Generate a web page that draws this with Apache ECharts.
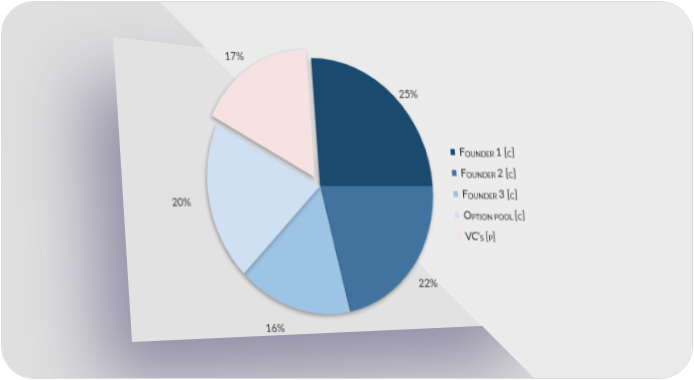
<!DOCTYPE html>
<html>
<head>
<meta charset="utf-8">
<script src="https://cdn.jsdelivr.net/npm/echarts@6/dist/echarts.min.js"></script>
<style>
html,body{margin:0;padding:0;background:#ffffff;}
#wrap{position:relative;width:694px;height:380px;overflow:hidden;background:#fff;}
#frame{position:absolute;left:1px;top:1px;width:692px;height:378px;box-sizing:border-box;border:1px solid #dcdcdc;border-radius:33px;overflow:hidden;}
#bg{position:absolute;left:-2px;top:-2px;width:694px;height:380px;}
#pie{position:absolute;left:-2px;top:-2px;width:694px;height:380px;transform-origin:320px 186px;transform:skewX(4deg) scale(0.88,1);}
</style>
</head>
<body>
<div id="wrap"><div id="frame"><div id="bg"></div><div id="pie"></div></div></div>
<script>
// ---- data ----
const categories = ['Founder 1 [c]', 'Founder 2 [c]', 'Founder 3 [c]', 'Option pool [c]', "VC's [p]"];
const shares = [25, 22, 16, 20, 17];
const explodedIndex = 4;

// ---- styling (kept apart from the data) ----
const sliceColors = ['#1b4a6f', '#42739f', '#9dc3e5', '#cfe0f2', '#f6e2e2'];
const labelNudge = [[-7, 3], [-8, 12], [-1, 15], [-6, 0], [6, -6]];

// ---- background slide ----
const bg = echarts.init(document.getElementById('bg'), null, {renderer: 'canvas'});
const cardPts = [[113, 37], [527, 85], [545, 323], [132, 342]];
bg.setOption({
  animation: false,
  graphic: {
    elements: [
      {type: 'rect', z: 1, shape: {x: 0, y: 0, width: 694, height: 380}, style: {fill: '#dfdfdf'}},
      {type: 'polygon', z: 2, shape: {points: cardPts},
        style: {fill: '#e2e2e2', shadowColor: 'rgba(70,60,110,0.5)', shadowBlur: 70, shadowOffsetX: -28, shadowOffsetY: 40}},
      {type: 'polygon', z: 3, shape: {points: [[158, 0], [694, 0], [694, 380], [536, 380]]}, style: {fill: '#ebebeb'}},
      {type: 'polygon', z: 4, shape: {points: [[205, 48], [527, 85], [545, 323], [481, 326]]},
        style: {fill: '#ececec'}}
    ]
  }
});

// ---- pie ----
function smallCaps(name) {
  let out = '', cur = null, buf = '';
  for (const ch of name) {
    let t;
    if (ch === ' ') t = cur || 'b';
    else if (ch >= 'a' && ch <= 'z') t = 's';
    else t = 'b';
    const c = t === 's' ? ch.toUpperCase() : ch;
    if (t !== cur && buf) { out += '{' + cur + '|' + buf + '}'; buf = ''; }
    cur = t; buf += c;
  }
  if (buf) out += '{' + cur + '|' + buf + '}';
  return out;
}

const pie = echarts.init(document.getElementById('pie'), null, {renderer: 'canvas'});
pie.setOption({
  animation: false,
  backgroundColor: 'transparent',
  color: sliceColors,
  legend: {
    orient: 'vertical',
    left: 466,
    top: 142,
    icon: 'rect',
    itemWidth: 5,
    itemHeight: 6,
    itemGap: 10,
    selectedMode: false,
    data: categories,
    formatter: function (n) { return smallCaps(n); },
    textStyle: {
      color: '#222',
      rich: {
        b: {fontFamily: 'Lato', fontSize: 11, color: '#262626', lineHeight: 12, verticalAlign: 'bottom'},
        s: {fontFamily: 'Lato', fontSize: 7.8, color: '#262626', lineHeight: 12, verticalAlign: 'bottom'}
      }
    }
  },
  series: [{
    type: 'pie',
    center: [320, 186],
    radius: 128,
    startAngle: 90,
    clockwise: true,
    avoidLabelOverlap: false,
    selectedMode: 'single',
    selectedOffset: 10,
    emphasis: {disabled: true},
    itemStyle: {shadowBlur: 4, shadowColor: 'rgba(0,0,0,0.35)', shadowOffsetX: -1, shadowOffsetY: 2},
    label: {show: true, position: 'outside', formatter: '{c}%', fontFamily: 'Lato', fontSize: 11, color: '#333'},
    labelLine: {show: false, length: 6, length2: 4},
    data: categories.map(function (n, i) {
      return {name: n, value: shares[i], selected: i === explodedIndex,
        label: {offset: labelNudge[i]}, select: {label: {offset: labelNudge[i]}}};
    })
  }]
});
</script>
</body>
</html>
